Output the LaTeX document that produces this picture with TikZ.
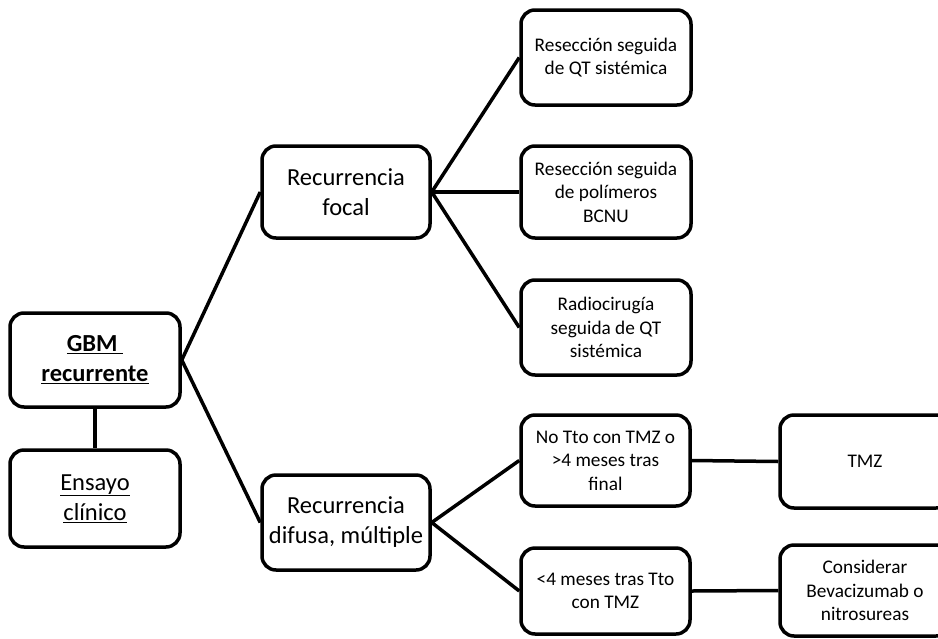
\documentclass[tikz,border=0pt]{standalone}
\usepackage{fontspec}
\setmainfont{Carlito}
\begin{document}
\begin{tikzpicture}[x=1pt,y=-1pt,
  box/.style={draw=black, line width=3.5pt, rounded corners=14pt, align=center, inner sep=2pt, fill=white},
  bigtxt/.style={font=\fontsize{24.5}{30}\selectfont},
  smalltxt/.style={font=\fontsize{19.3}{23.5}\selectfont},
  conn/.style={draw=black, line width=3.5pt}]
\useasboundingbox (0,0) rectangle (938,638);
\fill[white] (0,0) rectangle (938,638);
\clip (0,0) rectangle (938,638);
% nodes
\node[box,bigtxt,minimum width=170pt,minimum height=94pt] (gbm) at (95,360) {\textbf{\underline{GBM\ }}\\\textbf{\underline{recurrente}}};
\node[box,bigtxt,minimum width=170pt,minimum height=97pt] (ens) at (95,498.5) {\underline{Ensayo}\\\underline{clínico}};
\node[box,bigtxt,minimum width=168pt,minimum height=92pt] (foc) at (346,192) {Recurrencia\\focal};
\node[box,bigtxt,minimum width=168pt,minimum height=95pt] (dif) at (346,522.5) {Recurrencia\\difusa, múltiple};
\node[box,smalltxt,minimum width=170pt,minimum height=95pt] (r1) at (606,57.5) {Resección seguida\\de QT sistémica};
\node[box,smalltxt,minimum width=170pt,minimum height=92pt] (r2) at (606,192) {Resección seguida\\de polímeros\\BCNU};
\node[box,smalltxt,minimum width=170pt,minimum height=95pt] (r3) at (606,327.5) {Radiocirugía\\seguida de QT\\sistémica};
\node[box,smalltxt,minimum width=169pt,minimum height=91pt] (n1) at (605.5,460.5) {No Tto con TMZ o\\>4 meses tras\\final};
\node[box,smalltxt,minimum width=169pt,minimum height=86pt] (n2) at (605.5,591) {<4 meses tras Tto\\con TMZ};
\node[box,smalltxt,minimum width=170pt,minimum height=93pt] (t1) at (865,461.5) {TMZ};
\node[box,smalltxt,minimum width=170pt,minimum height=91pt] (t2) at (865,590.5) {Considerar\\Bevacizumab o\\nitrosureas};
% connectors
\draw[conn] (gbm.south) -- (ens.north);
\draw[conn] (gbm.east) -- (foc.west);
\draw[conn] (gbm.east) -- (dif.west);
\draw[conn] (foc.east) -- (r1.west);
\draw[conn] (foc.east) -- (r2.west);
\draw[conn] (foc.east) -- (r3.west);
\draw[conn] (dif.east) -- (n1.west);
\draw[conn] (dif.east) -- (n2.west);
\draw[conn] (n1.east) -- (t1.west);
\draw[conn] (n2.east) -- (t2.west);
\end{tikzpicture}
\end{document}
